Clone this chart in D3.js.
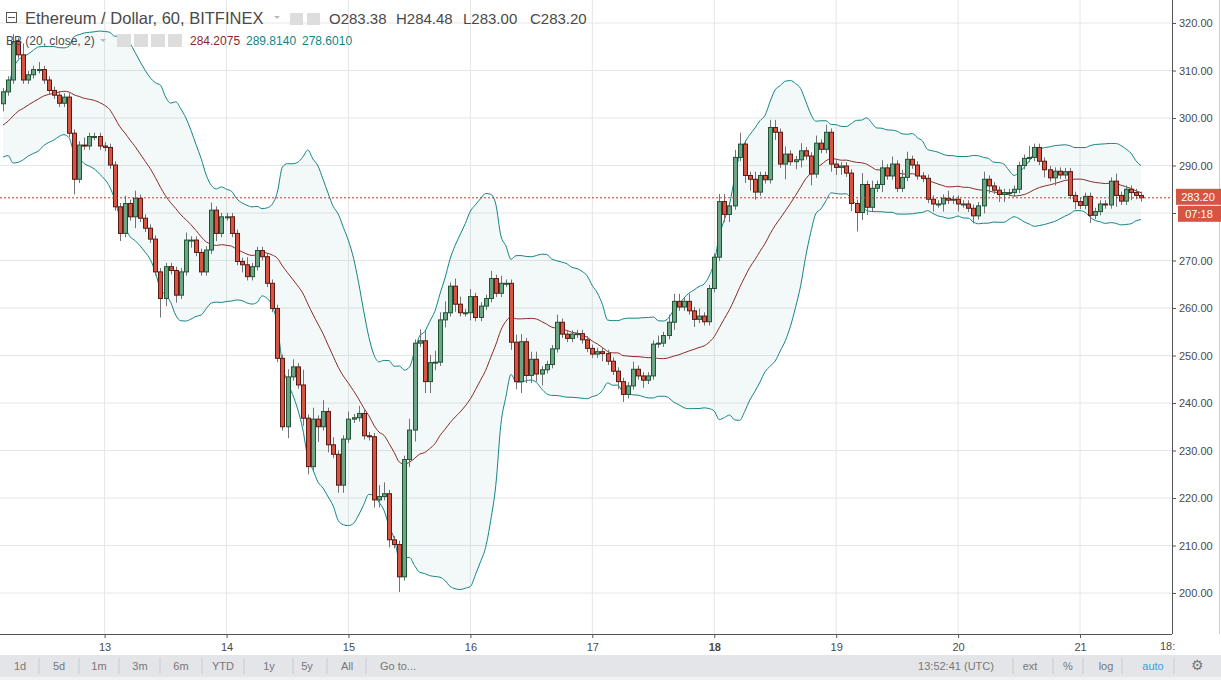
<!DOCTYPE html>
<html><head><meta charset="utf-8">
<script src="https://cdn.jsdelivr.net/npm/d3@7/dist/d3.min.js"></script>
<style>body{margin:0;background:#fff;font-family:Arial,"Liberation Sans",sans-serif}</style>
</head><body><svg id="c" width="1221" height="680"></svg>
<script>
const firstOpen = 303;
const prevCloses = [292,294,293,296,295,297,298,296,299,300,298,301,300,299,301,302,300,301,303];
const closes = [305.5,308.0,316.1,313.3,308.0,309.1,310.2,310.2,308.0,305.8,
304.8,303.1,304.4,296.8,287.1,294.3,294.1,296.1,296.1,294.1,
293.8,290.1,281.3,275.7,282.0,279.2,283.1,278.9,276.8,274.5,
267.6,262.0,268.7,267.9,262.7,267.6,274.3,274.3,271.7,267.6,
272.2,280.6,275.7,279.2,279.2,275.7,269.8,269.1,266.6,268.7,
272.1,270.8,265.2,259.9,249.4,235.0,245.5,247.6,243.8,236.8,
226.6,236.6,235.0,238.2,231.2,229.2,222.7,232.4,236.6,236.9,
237.8,233.1,232.9,219.6,220.3,220.9,211.2,210.2,203.4,228.1,
234.3,252.6,253.1,244.5,248.5,248.6,257.5,259.0,264.6,260.8,
259.0,259.0,262.4,258.0,260.4,262.0,266.2,263.1,265.2,265.2,
252.8,244.5,252.9,245.8,249.2,246.1,247.0,248.1,251.4,257.0,
254.5,253.6,254.5,254.6,253.3,251.5,250.3,250.8,250.4,248.8,
246.7,244.5,241.8,243.6,247.1,245.7,244.8,245.7,252.4,252.6,
254.2,257.0,261.4,260.2,261.4,259.4,257.6,258.3,257.1,264.1,
270.7,282.4,279.7,281.5,291.7,294.5,287.9,287.1,284.4,287.9,
287.0,298.0,297.0,290.3,292.4,290.8,291.2,293.1,292.0,288.2,
294.7,293.4,297.0,290.3,289.6,289.9,288.4,282.0,280.1,286.0,
281.2,285.2,286.0,289.5,287.8,290.3,285.2,287.5,291.3,290.1,
287.8,287.3,282.9,281.9,281.9,283.1,282.7,282.9,281.9,281.9,
281.0,279.4,281.5,287.1,285.7,284.8,283.9,284.3,284.3,285.0,
290.0,291.5,291.7,293.8,290.9,289.1,287.4,288.8,288.0,288.7,
283.7,282.4,281.6,283.5,279.5,280.3,281.9,281.7,286.7,283.7,
282.5,285.0,284.3,283.7,283.2];
const wickUp = [1,1,2,1,3,1,1,2,1,1, 1,1,1,1,1,1,2,1,1,1, 1,1,1,1,2,1,2,1,1,1, 1,1,1,1,1,1,2,1,1,1,
1,2,1,1,1,1,1,1,2,1, 1,1,1,1,1,1,2,2,1,4, 1,3,1,3,1,2,1,1,2,1, 2,1,1,1,3,3,1,1,1,1,
3,1,3,3,2,3,2,3,1,2, 2,1,2,1,1,1,2,1,2,1, 1,2,2,1,2,2,1,1,1,2, 1,1,1,1,1,1,1,1,1,1,
1,1,1,1,2,1,1,1,1,2, 1,2,2,2,1,2,1,2,1,1, 1,2,2,1,2,3,1,1,2,1, 1,2,2,1,2,1,1,2,1,1,
2,1,2,1,1,1,1,1,1,3, 1,2,1,2,1,2,1,2,2,1, 1,1,1,1,1,1,2,1,1,1, 1,1,1,2,1,1,1,1,1,1,
1,1,3,1,1,1,1,1,1,1, 1,1,1,1,1,1,1,1,1,2, 1,1,1,1,1];
const wickDn = [2,1,1,1,1,1,1,1,1,1, 1,1,1,1,4,1,1,1,1,1, 1,1,1,2,1,1,3,1,1,1, 1,5,2,1,2,1,1,2,1,1,
1,1,2,1,1,1,1,2,1,1, 1,1,1,1,1,1,3,1,1,2, 2,1,4,1,2,1,2,2,1,1, 1,1,1,2,2,1,2,1,4,1,
2,3,1,3,3,2,1,2,1,2, 1,1,2,1,1,1,1,1,1,1, 2,2,3,2,2,2,3,1,1,1, 1,1,1,1,1,1,1,1,2,1,
1,2,2,1,1,1,2,1,1,1, 1,1,2,1,1,1,2,1,1,1, 1,1,2,2,1,1,2,3,2,1, 1,1,2,1,4,1,2,2,1,3,
1,1,1,2,2,2,1,2,5,2, 2,1,1,2,1,1,1,1,1,1, 1,1,1,2,1,2,1,1,2,1, 1,2,1,2,2,1,2,2,1,1,
1,1,1,1,1,2,1,2,1,1, 1,2,1,1,2,1,1,1,1,3, 1,1,2,1,1];
const dayLabels = ["13","14","15","16","17","18","19","20","21"];
const dayStartIndex = [20,44,68,92,116,140,164,188,212];
const priceTicks = [200,210,220,230,240,250,260,270,280,290,300,310,320];
const lastPrice = 283.20;

const svg = d3.select("#c");
const W=1221, plotR=1172, plotB=634;
const x = d3.scaleLinear().domain([0,224]).range([3,1141]);
const y = d3.scaleLinear().domain([200,320]).range([593,23]);

const candles = closes.map((c,i)=>{
  const o = i===0?firstOpen:closes[i-1];
  return {i,o,c,h:Math.max(o,c)+wickUp[i]*0.8,l:Math.min(o,c)-wickDn[i]*0.8};
});
const all = prevCloses.concat(closes);
const bb = closes.map((c,i)=>{
  const w = all.slice(i, i+20);
  const m = d3.mean(w), s = Math.sqrt(d3.mean(w.map(v=>(v-m)*(v-m))));
  return {i,m,u:m+2*s,lo:m-2*s};
});

const g = svg.append("g");
g.selectAll(".hg").data(priceTicks).join("line").attr("x1",0).attr("x2",plotR)
  .attr("y1",d=>y(d)).attr("y2",d=>y(d)).attr("stroke","#e6e6e6");
g.selectAll(".vg").data(dayStartIndex).join("line").attr("y1",0).attr("y2",plotB)
  .attr("x1",d=>x(d)).attr("x2",d=>x(d)).attr("stroke","#e6e6e6");

const area = d3.area().x(d=>x(d.i)).y0(d=>y(d.lo)).y1(d=>y(d.u)).curve(d3.curveMonotoneX);
svg.append("path").datum(bb).attr("d",area).attr("fill","#138484").attr("fill-opacity",0.05);
const ln = k=>d3.line().x(d=>x(d.i)).y(d=>y(d[k])).curve(d3.curveMonotoneX);
svg.append("path").datum(bb).attr("d",ln("u")).attr("fill","none").attr("stroke","#138484").attr("stroke-width",1);
svg.append("path").datum(bb).attr("d",ln("lo")).attr("fill","none").attr("stroke","#138484").attr("stroke-width",1);
svg.append("path").datum(bb).attr("d",ln("m")).attr("fill","none").attr("stroke","#8b2a2a").attr("stroke-width",1);

const cg = svg.append("g");
cg.selectAll("line").data(candles).join("line").attr("x1",d=>Math.round(x(d.i))+0.5).attr("x2",d=>Math.round(x(d.i))+0.5)
  .attr("y1",d=>y(d.h)).attr("y2",d=>y(d.l)).attr("stroke","#737375");
cg.selectAll("rect").data(candles).join("rect")
  .attr("x",d=>Math.round(x(d.i))-1.5).attr("width",4)
  .attr("y",d=>y(Math.max(d.o,d.c))).attr("height",d=>Math.max(1,y(Math.min(d.o,d.c))-y(Math.max(d.o,d.c))))
  .attr("fill",d=>d.c>=d.o?"#6ba583":"#d75442").attr("stroke",d=>d.c>=d.o?"#225437":"#5b1a13").attr("stroke-width",1);

svg.append("line").attr("x1",0).attr("x2",plotR).attr("y1",y(lastPrice)).attr("y2",y(lastPrice))
  .attr("stroke","#c0392b").attr("stroke-dasharray","2,2");

svg.append("line").attr("x1",plotR+0.5).attr("x2",plotR+0.5).attr("y1",0).attr("y2",plotB).attr("stroke","#555");
svg.append("line").attr("x1",0).attr("x2",plotR).attr("y1",plotB+0.5).attr("y2",plotB+0.5).attr("stroke","#555");
svg.append("line").attr("x1",W-1.5).attr("x2",W-1.5).attr("y1",0).attr("y2",plotB).attr("stroke","#ccc");

const yAxis = svg.append("g").attr("transform",`translate(${plotR},0)`)
  .call(d3.axisRight(y).tickValues(priceTicks).tickFormat(d3.format(".2f")).tickSize(4));
yAxis.select(".domain").remove();
yAxis.selectAll("line").attr("stroke","#555");
yAxis.selectAll("text").attr("font-size",11).attr("fill","#4a4a4a").attr("x",7);

const xAxis = svg.append("g").attr("transform",`translate(0,${plotB})`)
  .call(d3.axisBottom(x).tickValues(dayStartIndex).tickFormat((d,i)=>dayLabels[i]).tickSize(4));
xAxis.select(".domain").remove();
xAxis.selectAll("line").attr("stroke","#555");
xAxis.selectAll("text").attr("font-size",11).attr("fill","#4a4a4a").attr("dy","0.9em")
  .attr("font-weight",(d,i)=>dayLabels[i]==="18"?"bold":"normal");
svg.append("text").attr("x",1160).attr("y",650).attr("font-size",11).attr("fill","#4a4a4a").text("18:");

const ly = y(lastPrice);
svg.append("rect").attr("x",plotR+4).attr("y",ly-9).attr("width",45).attr("height",16).attr("fill","#d75442");
svg.append("text").attr("x",plotR+26).attr("y",ly+3).attr("text-anchor","middle").attr("font-size",11).attr("fill","#fff").text("283.20");
svg.append("rect").attr("x",plotR+6).attr("y",ly+8).attr("width",43).attr("height",16).attr("fill","#d75442");
svg.append("text").attr("x",plotR+27).attr("y",ly+20).attr("text-anchor","middle").attr("font-size",11).attr("fill","#fff").text("07:18");

const hd = svg.append("g");
hd.append("rect").attr("x",6.5).attr("y",12.5).attr("width",10).attr("height",10).attr("fill","none").attr("stroke","#555");
hd.append("line").attr("x1",8).attr("x2",15).attr("y1",17.5).attr("y2",17.5).attr("stroke","#555");
hd.append("text").attr("x",25).attr("y",24).attr("font-size",16.5).attr("fill","#4a4a4a").text("Ethereum / Dollar, 60, BITFINEX");
hd.append("path").attr("d","M274,16 l6,0 l-3,3 z").attr("fill","#bbb");
[290,307].forEach(px=>hd.append("rect").attr("x",px).attr("y",13).attr("width",13).attr("height",12).attr("fill","#ddd"));
const ohlc=[["O","283.38"],["H","284.48"],["L","283.00"],["C","283.20"]];
let ox=329;
ohlc.forEach(([k,v])=>{hd.append("text").attr("x",ox).attr("y",24).attr("font-size",15).attr("fill","#4a4a4a").text(k+v);ox+=67;});
hd.append("text").attr("x",6).attr("y",45).attr("font-size",12).attr("fill","#4a4a4a").text("BB (20, close, 2)");
hd.append("path").attr("d","M100,39 l6,0 l-3,3 z").attr("fill","#bbb");
[117,134,151,168].forEach(px=>hd.append("rect").attr("x",px).attr("y",34).attr("width",14).attr("height",13).attr("fill","#ddd"));
hd.append("text").attr("x",190).attr("y",45).attr("font-size",12).attr("fill","#8b2a2a").text("284.2075");
hd.append("text").attr("x",246).attr("y",45).attr("font-size",12).attr("fill","#138484").text("289.8140");
hd.append("text").attr("x",302).attr("y",45).attr("font-size",12).attr("fill","#138484").text("278.6010");

const tb = svg.append("g");
tb.append("rect").attr("x",0).attr("y",655).attr("width",W).attr("height",22).attr("fill","#e4e5e9");
tb.append("rect").attr("x",0).attr("y",677).attr("width",W).attr("height",3).attr("fill","#f0f1f3");
const leftBtns=[["1d",20],["5d",59],["1m",99],["3m",140],["6m",181],["YTD",223],["1y",269],["5y",307],["All",347],["Go to...",398]];
const seps=[39,79,119,160,202,244,293,327,366];
leftBtns.forEach(([t,px])=>tb.append("text").attr("x",px).attr("y",670).attr("text-anchor","middle").attr("font-size",11).attr("fill","#777").text(t));
seps.concat([1013,1053,1083,1122,1174]).forEach(px=>tb.append("line").attr("x1",px).attr("x2",px).attr("y1",658).attr("y2",674).attr("stroke","#c9cacf"));
tb.append("text").attr("x",956).attr("y",670).attr("text-anchor","middle").attr("font-size",11).attr("fill","#777").text("13:52:41 (UTC)");
[["ext",1030,"#777"],["%",1068,"#777"],["log",1106,"#777"],["auto",1153,"#3aa0dd"],["⚙",1197,"#777"]].forEach(([t,px,c])=>
  tb.append("text").attr("x",px).attr("y",670).attr("text-anchor","middle").attr("font-size",t==="⚙"?14:11).attr("fill",c).text(t));
</script></body></html>
